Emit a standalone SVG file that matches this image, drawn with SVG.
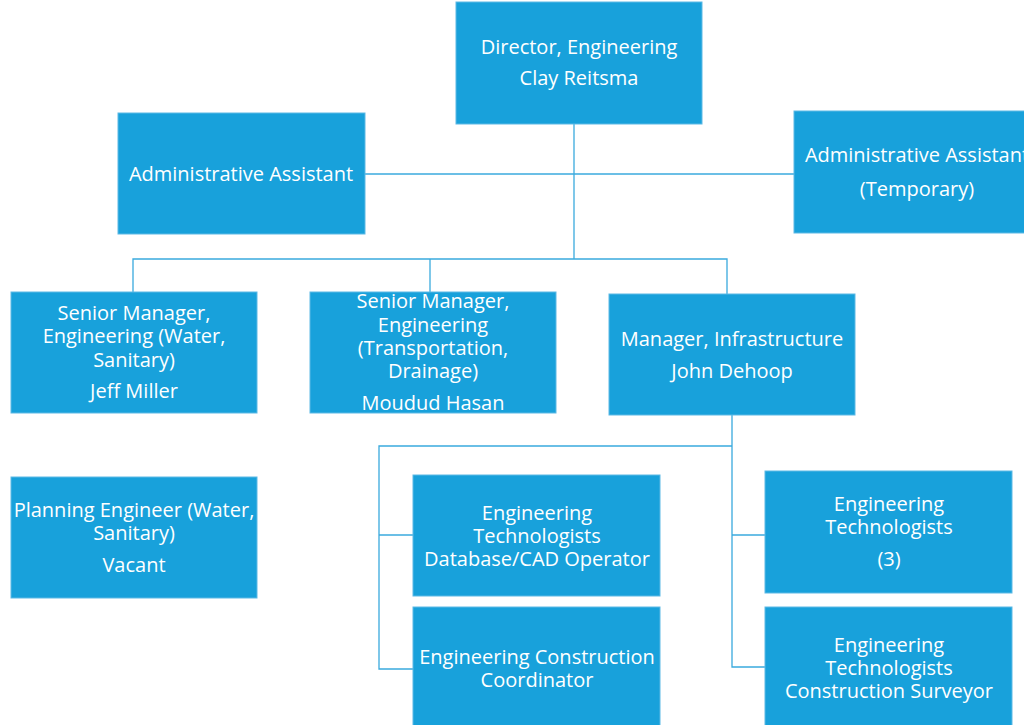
<svg xmlns="http://www.w3.org/2000/svg" width="1024" height="725" viewBox="0 0 1024 725">
<style>
.box{fill:#18a1db;stroke:#5cb9e5;stroke-width:1}
.t{font-family:"Open Sans","Noto Sans",sans-serif;font-size:20px;fill:#ffffff;text-anchor:middle}
.c{fill:none;stroke:#3aaade;stroke-width:1.3}
</style>
<rect width="1024" height="725" fill="#ffffff"/>
<g id="connectors">
<path class="c" d="M574,124 V259"/>
<path class="c" d="M365,174 H794"/>
<path class="c" d="M133,292 V259 H727 V294"/>
<path class="c" d="M430,259 V292"/>
<path class="c" d="M732,415 V667 H765"/>
<path class="c" d="M732,446 H379 V669 H413"/>
<path class="c" d="M379,535 H413"/>
<path class="c" d="M732,535 H765"/>
</g>
<g id="director">
<rect class="box" x="456" y="2" width="246" height="122"/>
<text class="t" x="579" y="54">Director, Engineering</text>
<text class="t" x="579" y="85">Clay Reitsma</text>
</g>
<g id="admin">
<rect class="box" x="118" y="113" width="247" height="121"/>
<text class="t" x="241" y="181">Administrative Assistant</text>
</g>
<g id="admin-temp">
<rect class="box" x="794" y="111" width="246" height="122"/>
<text class="t" x="917" y="162">Administrative Assistant</text>
<text class="t" x="917" y="196">(Temporary)</text>
</g>
<g id="sm-water">
<rect class="box" x="11" y="292" width="246" height="121"/>
<text class="t" x="134" y="320">Senior Manager,</text>
<text class="t" x="134" y="343">Engineering (Water,</text>
<text class="t" x="134" y="367">Sanitary)</text>
<text class="t" x="134" y="398">Jeff Miller</text>
</g>
<g id="sm-transport">
<rect class="box" x="310" y="292" width="246" height="121"/>
<text class="t" x="433" y="308">Senior Manager,</text>
<text class="t" x="433" y="332">Engineering</text>
<text class="t" x="433" y="355">(Transportation,</text>
<text class="t" x="433" y="378">Drainage)</text>
<text class="t" x="433" y="410">Moudud Hasan</text>
</g>
<g id="mgr-infra">
<rect class="box" x="609" y="294" width="246" height="121"/>
<text class="t" x="732" y="346">Manager, Infrastructure</text>
<text class="t" x="732" y="378">John Dehoop</text>
</g>
<g id="planning">
<rect class="box" x="11" y="477" width="246" height="121"/>
<text class="t" x="134" y="517">Planning Engineer (Water,</text>
<text class="t" x="134" y="540">Sanitary)</text>
<text class="t" x="134" y="572">Vacant</text>
</g>
<g id="et-cad">
<rect class="box" x="413" y="475" width="247" height="121"/>
<text class="t" x="537" y="520">Engineering</text>
<text class="t" x="537" y="543">Technologists</text>
<text class="t" x="537" y="566">Database/CAD Operator</text>
</g>
<g id="ec-coord">
<rect class="box" x="413" y="607" width="247" height="121"/>
<text class="t" x="537" y="664">Engineering Construction</text>
<text class="t" x="537" y="687">Coordinator</text>
</g>
<g id="et-3">
<rect class="box" x="765" y="471" width="247" height="122"/>
<text class="t" x="889" y="511">Engineering</text>
<text class="t" x="889" y="534">Technologists</text>
<text class="t" x="889" y="566">(3)</text>
</g>
<g id="et-surveyor">
<rect class="box" x="765" y="607" width="247" height="121"/>
<text class="t" x="889" y="652">Engineering</text>
<text class="t" x="889" y="675">Technologists</text>
<text class="t" x="889" y="698">Construction Surveyor</text>
</g>
</svg>
